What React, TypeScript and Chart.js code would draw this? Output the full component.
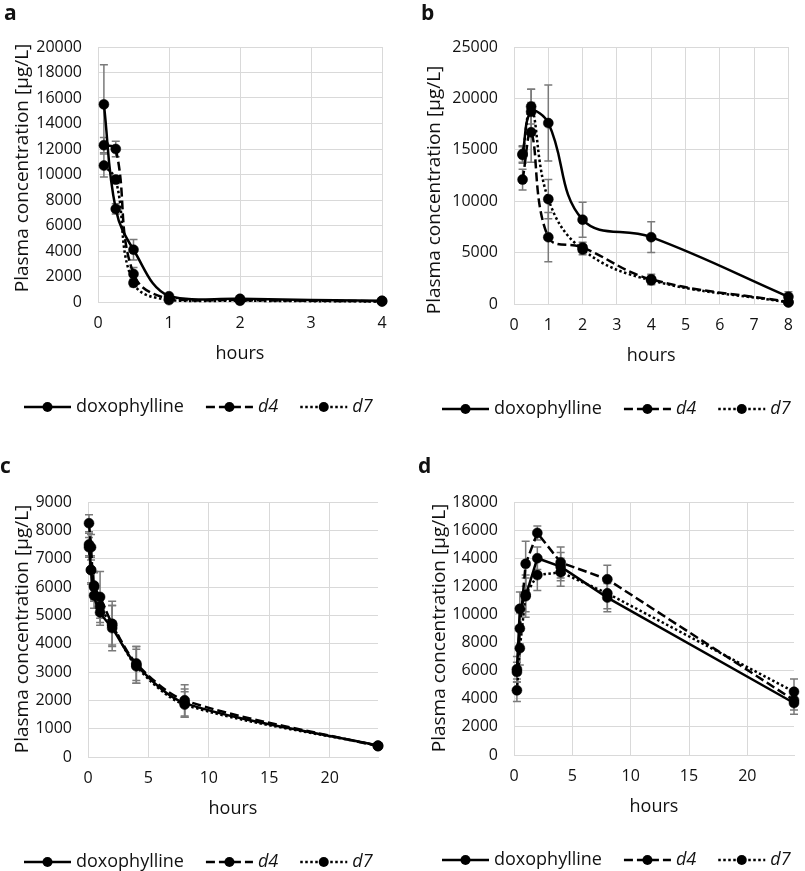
import React, { useEffect, useRef } from 'react';
import { Chart, registerables } from 'chart.js';
Chart.register(...registerables);

const FONT = "'Open Sans', 'Noto Sans', sans-serif";
const SERIES_NAMES = ['doxophylline', 'd4', 'd7'];
const X_TITLE = 'hours';
const Y_TITLE = 'Plasma concentration [µg/L]';

// Panel a
const timesA = [0.083, 0.25, 0.5, 1, 2, 4];
const doxA = [15500, 7300, 4100, 450, 250, 100];
const d4A = [12300, 12000, 2200, 250, 150, 60];
const d7A = [10700, 9600, 1500, 150, 100, 40];
const doxAErr = [3100, 400, 800, 150, 100, 50];
const d4AErr = [600, 600, 500, 100, 60, 30];
const d7AErr = [900, 300, 300, 80, 50, 30];

// Panel b
const timesB = [0.25, 0.5, 1, 2, 4, 8];
const doxB = [14600, 18700, 17600, 8200, 6500, 700];
const d4B = [12100, 16700, 6500, 5500, 2400, 200];
const d7B = [14500, 19200, 10200, 5300, 2300, 150];
const doxBErr = [800, 2200, 3700, 1700, 1500, 500];
const d4BErr = [1000, 2900, 2400, 500, 500, 200];
const d7BErr = [800, 1700, 1900, 500, 400, 200];

// Panel c
const timesC = [0.083, 0.25, 0.5, 1, 2, 4, 8, 24];
const doxC = [7500, 6600, 5700, 5100, 4550, 3250, 1900, 400];
const d4C = [8250, 7400, 6050, 5650, 4700, 3300, 2000, 380];
const d7C = [7400, 6600, 6000, 5300, 4650, 3200, 1850, 400];
const doxCErr = [400, 500, 450, 450, 800, 650, 500, 100];
const d4CErr = [300, 450, 500, 900, 800, 600, 550, 100];
const d7CErr = [350, 450, 500, 400, 700, 600, 450, 100];

// Panel d
const timesD = [0.25, 0.5, 1, 2, 4, 8, 24];
const doxD = [5900, 10400, 11300, 14000, 13400, 11200, 3700];
const d4D = [6100, 9000, 13600, 15800, 13700, 12500, 3900];
const d7D = [4600, 7600, 11400, 12800, 13000, 11500, 4500];
const doxDErr = [700, 1200, 1500, 800, 1000, 1000, 800];
const d4DErr = [900, 1100, 1600, 500, 1100, 1000, 700];
const d7DErr = [800, 1200, 1200, 1100, 1000, 1100, 900];

const DASHES = [[], [9, 4], [2.5, 2.5]];
const ITALIC = [false, true, true];

type PanelCfg = {
  letter: string; left: number; top: number; width: number; height: number;
  plotL: number; plotR: number; plotT: number; plotB: number;
  xMax: number; xStep: number; yMax: number; yStep: number;
  times: number[]; values: number[][]; errors: number[][]; tension: number;
  titleX: number; titleY: number; legendX: number; letterX: number; letterY: number;
};

const PANELS: PanelCfg[] = [
  { letter: 'a', left: 0, top: 0, width: 400, height: 420, plotL: 98, plotR: 382, plotT: 47, plotB: 302,
    xMax: 4, xStep: 1, yMax: 20000, yStep: 2000, times: timesA, values: [doxA, d4A, d7A], errors: [doxAErr, d4AErr, d7AErr],
    tension: 0.4, titleX: 28, titleY: 168, legendX: 24, letterX: 4, letterY: 20 },
  { letter: 'b', left: 400, top: 0, width: 405, height: 420, plotL: 114, plotR: 400, plotT: 47, plotB: 304,
    xMax: 8, xStep: 1, yMax: 25000, yStep: 5000, times: timesB, values: [doxB, d4B, d7B], errors: [doxBErr, d4BErr, d7BErr],
    tension: 0.4, titleX: 40, titleY: 190, legendX: 42, letterX: 21, letterY: 20 },
  { letter: 'c', left: 0, top: 420, width: 400, height: 451, plotL: 88, plotR: 378, plotT: 82, plotB: 337,
    xMax: 24, xStep: 5, yMax: 9000, yStep: 1000, times: timesC, values: [doxC, d4C, d7C], errors: [doxCErr, d4CErr, d7CErr],
    tension: 0.3, titleX: 28, titleY: 209, legendX: 24, letterX: 0, letterY: 53 },
  { letter: 'd', left: 400, top: 420, width: 405, height: 451, plotL: 114, plotR: 394, plotT: 82, plotB: 335,
    xMax: 24, xStep: 5, yMax: 18000, yStep: 2000, times: timesD, values: [doxD, d4D, d7D], errors: [doxDErr, d4DErr, d7DErr],
    tension: 0, titleX: 45, titleY: 208, legendX: 42, letterX: 18, letterY: 53 },
];

function Panel({ cfg }: { cfg: PanelCfg }) {
  const ref = useRef<HTMLCanvasElement | null>(null);
  useEffect(() => {
    const canvas = ref.current;
    if (!canvas) return;
    const datasets = cfg.values.map((vals, si) => ({
      label: SERIES_NAMES[si],
      data: cfg.times.map((t, i) => ({ x: t, y: vals[i] })),
      errors: cfg.errors[si],
      borderColor: '#000',
      backgroundColor: '#000',
      borderWidth: 2.5,
      borderDash: DASHES[si],
      pointRadius: 5,
      pointBackgroundColor: '#000',
      pointBorderColor: '#000',
      pointBorderWidth: 0.5,
      tension: cfg.tension,
      clip: false as any,
    }));

    const overlay = {
      id: 'overlay',
      beforeDatasetsDraw(chart: any) {
        const ctx = chart.ctx;
        const xs = chart.scales.x, ys = chart.scales.y;
        ctx.save();
        ctx.strokeStyle = '#7a7a7a';
        ctx.lineWidth = 1.5;
        ctx.setLineDash([]);
        chart.data.datasets.forEach((ds: any) => {
          ds.data.forEach((p: any, i: number) => {
            const e = ds.errors[i];
            if (!e) return;
            const x = xs.getPixelForValue(p.x);
            const yt = ys.getPixelForValue(p.y + e);
            const yb = ys.getPixelForValue(Math.max(0, p.y - e));
            ctx.beginPath();
            ctx.moveTo(x, yt); ctx.lineTo(x, yb);
            ctx.moveTo(x - 4, yt); ctx.lineTo(x + 4, yt);
            ctx.moveTo(x - 4, yb); ctx.lineTo(x + 4, yb);
            ctx.stroke();
          });
        });
        ctx.restore();
      },
      afterDraw(chart: any) {
        const ctx = chart.ctx;
        const area = chart.chartArea;
        ctx.save();
        ctx.fillStyle = '#111';
        // panel letter
        ctx.font = `bold 21px ${FONT}`;
        ctx.textAlign = 'left';
        ctx.textBaseline = 'alphabetic';
        ctx.fillText(cfg.letter, cfg.letterX, cfg.letterY);
        // x title
        ctx.font = `18px ${FONT}`;
        ctx.textAlign = 'center';
        ctx.fillText(X_TITLE, (area.left + area.right) / 2, area.bottom + 57);
        // y title
        ctx.save();
        ctx.translate(cfg.titleX, cfg.titleY);
        ctx.rotate(-Math.PI / 2);
        ctx.font = `19px ${FONT}`;
        ctx.textAlign = 'center';
        ctx.textBaseline = 'alphabetic';
        ctx.fillText(Y_TITLE, 0, 0);
        ctx.restore();
        // legend
        const ly = area.bottom + 105;
        let x = cfg.legendX;
        SERIES_NAMES.forEach((name, si) => {
          ctx.strokeStyle = '#000';
          ctx.lineWidth = 2.5;
          ctx.setLineDash(DASHES[si]);
          ctx.beginPath();
          ctx.moveTo(x, ly); ctx.lineTo(x + 47, ly);
          ctx.stroke();
          ctx.setLineDash([]);
          ctx.fillStyle = '#000';
          ctx.beginPath();
          ctx.arc(x + 23.5, ly, 5, 0, Math.PI * 2);
          ctx.fill();
          ctx.fillStyle = '#111';
          ctx.font = `${ITALIC[si] ? 'italic ' : ''}18px ${FONT}`;
          ctx.textAlign = 'left';
          ctx.textBaseline = 'middle';
          ctx.fillText(name, x + 52, ly);
          x += 52 + ctx.measureText(name).width + 22;
        });
        ctx.restore();
      },
    };

    const tickFont = { family: FONT, size: 16 };
    const chart = new Chart(canvas, {
      type: 'line',
      data: { datasets: datasets as any },
      options: {
        responsive: false,
        animation: false,
        devicePixelRatio: 1,
        layout: { padding: { left: 0, top: cfg.plotT, right: cfg.width - cfg.plotR, bottom: 0 } },
        scales: {
          x: {
            type: 'linear', min: 0, max: cfg.xMax,
            ticks: { stepSize: cfg.xStep, includeBounds: false, padding: 12, font: tickFont, color: '#111',
              callback: (v: any) => String(v) },
            grid: { color: '#d9d9d9', drawTicks: false, lineWidth: 1 },
            border: { color: '#d9d9d9' },
            afterFit: (s: any) => { s.height = cfg.height - cfg.plotB; },
          },
          y: {
            type: 'linear', min: 0, max: cfg.yMax,
            ticks: { stepSize: cfg.yStep, padding: 16, font: tickFont, color: '#111',
              callback: (v: any) => String(v) },
            grid: { color: '#d9d9d9', drawTicks: false, lineWidth: 1 },
            border: { color: '#d9d9d9' },
            afterFit: (s: any) => { s.width = cfg.plotL; },
          },
        },
        plugins: { legend: { display: false }, tooltip: { enabled: false }, title: { display: false } },
      } as any,
      plugins: [overlay],
    });
    return () => chart.destroy();
  }, [cfg]);
  return (
    <canvas
      ref={ref}
      width={cfg.width}
      height={cfg.height}
      style={{ position: 'absolute', left: cfg.left, top: cfg.top, width: cfg.width, height: cfg.height }}
    />
  );
}

export default function App() {
  return (
    <div style={{ position: 'absolute', left: 0, top: 0, width: 805, height: 871, background: '#fff', overflow: 'hidden' }}>
      {PANELS.map((p) => <Panel key={p.letter} cfg={p} />)}
    </div>
  );
}
